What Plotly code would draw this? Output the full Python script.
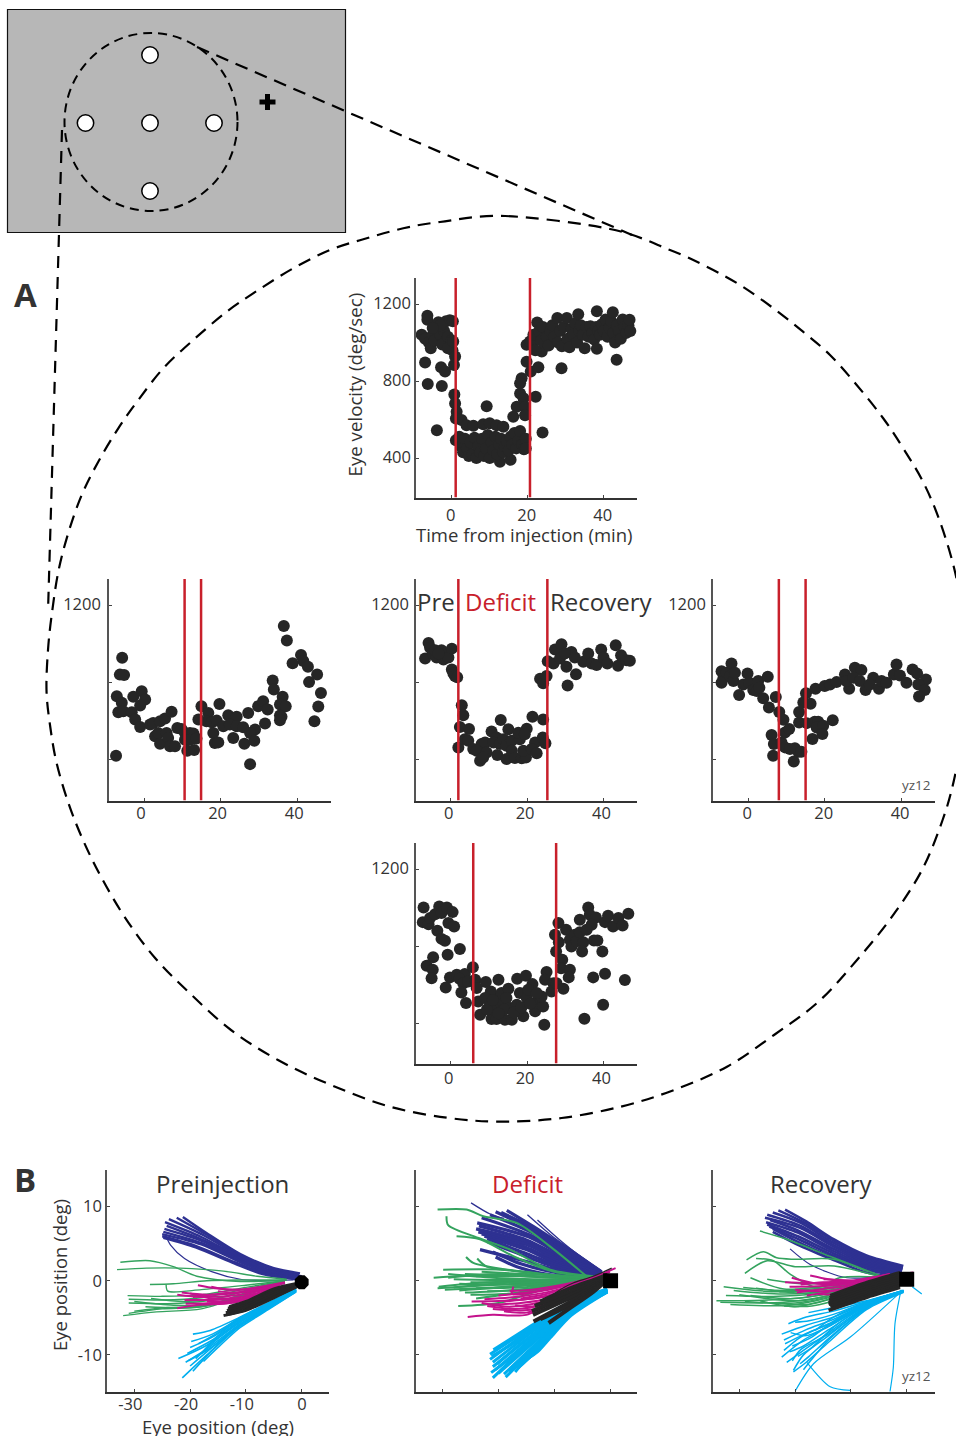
import plotly.graph_objects as go

W, H = 956, 1436
INK = "#262626"
RED = "#C8202B"
FONT = "Open Sans"

# ---------- Eye velocity scatter data: (minutes, deg/sec) ----------
TOP_PTS = [(-7.9,1040),(-6.4,1139),(-6.4,1118),(-7,896),(-6.3,784),(-3.9,544),(-2.6,774),(-2.8,871),(-1.75,849),
 (-7,1020),(-6,1000),(-5.5,970),(-5,1040),(-4.5,1010),(-4,1080),(-3.5,1105),(-3,1040),(-2.5,990),(-2,1060),(-1.5,1110),
 (-1,1030),(-0.5,1115),(0,1010),(0.2,960),(-1,970),(0.3,1110),(-3,1090),(-5,1075),(0.6,883),(0.9,927),(0.4,1005),
 (0.7,730),(0.9,683),(1.3,640),(1.1,605),(2.6,597),(3.9,570),(5.7,567),(8.3,575),(10,580),(11.8,570),(13.6,562),(9.2,669),
 (1.1,492),(12.7,380),(15.5,391),(2,510),(2.5,460),(3,430),(3.5,500),(4,450),(4.5,410),(5,480),(5.5,420),(6,505),(6.5,400),
 (7,460),(7.5,430),(8,500),(8.5,410),(9,450),(9.5,520),(10,400),(10.5,480),(11,440),(11.5,510),(12,420),(12.5,470),(13,500),
 (13.5,430),(14,460),(14.5,490),(15,440),(15.5,510),(16,470),(16.5,530),(17,450),(17.5,490),(18,540),(18.5,470),(19,445),
 (19.5,500),(19.5,450),(16.2,614),(17.1,666),(18,735),(18.9,710),(18.4,814),(18,788),(19.3,666),(19.3,622),(19.7,900),
 (19.7,988),(20.8,849),(20.6,1005),(22.1,718),(23.9,532),(22.8,871),(23.7,953),(21,1000),(21.5,1040),(22,960),(22.5,1104),
 (23,1060),(23.5,1010),(24,1080),(25,1030),(25.5,985),(26,1060),(26.5,1090),(27,1030),(27.8,1127),(28,1000),(28.5,1060),
 (28.9,866),(29,980),(29.5,1080),(30.3,1127),(30.5,1020),(31,975),(31.5,1070),(32,1040),(32.5,1100),(33,1000),(33.3,1147),
 (33.5,1060),(34,1090),(34.5,1040),(35,970),(35.5,1080),(36,1030),(36.5,1085),(37,1050),(37.5,1015),(38,1080),(38.2,1162),
 (38.2,967),(38.5,1060),(39,1040),(39.5,1095),(40,1060),(40.5,1120),(41,1030),(41.5,1075),(42,1110),(42.4,1157),(42.5,1050),
 (43,1000),(43.4,910),(43.5,1090),(44,1060),(44.5,1020),(45,1120),(45.5,1080),(46,1050),(46.5,1090),(46.8,1118),(47,1060)]

LEFT_PTS = [(-7.3,421),(-5.7,930),(-6.3,842),(-5.2,840),(-7.1,730),(-5.8,696),(-6.7,647),(-5.4,652),(-2.8,727),(-0.6,756),
 (0.3,713),(-1,682),(-3.2,647),(-2.3,609),(-1,570),(1.6,583),(2.4,591),(4.2,600),(5.5,614),(7.2,649),(2.9,522),(3.7,539),
 (4.2,483),(5.9,539),(6.3,513),(6.8,470),(8.1,470),(8.7,565),(9.8,560),(10.7,539),(12,539),(12.9,536),(10.7,504),(12,504),
 (13.7,510),(11.3,447),(13.1,450),(15,678),(16.8,643),(14.2,609),(16.3,600),(17.7,595),(19,603),(20.7,574),(22,631),(24.2,623),
 (22.4,583),(24.2,574),(25.9,569),(18.1,539),(18.5,487),(19.4,490),(23.3,513),(19.7,689),(27.2,643),(26.2,483),(29,557),
 (27.7,539),(28.8,499),(27.7,377),(31.6,588),(29.8,678),(31.1,704),(32.3,661),(33.6,812),(33.9,765),(36.2,727),(35.5,687),
 (37,678),(35.5,630),(35.9,623),(35.5,605),(36.5,1094),(37.3,1019),(38.8,901),(41,944),(41.6,913),(42.8,883),(45.2,843),
 (43.1,803),(46.2,746),(45.5,676),(44.5,600)]

MID_PTS = [(-6.7,926),(-5.8,1006),(-5.4,982),(-4.7,952),(-3.7,931),(-2.4,969),(-1.9,921),(-1.5,952),(-0.6,931),(0.3,977),
 (-4.1,969),(-3.2,952),(0.3,869),(0.7,849),(1.1,835),(1.7,828),(2.9,683),(3.3,631),(2.4,570),(4.8,559),(2,463),(3.7,506),
 (4.6,498),(5.9,455),(7.7,395),(8.1,481),(9,489),(6.8,446),(9.4,438),(8.5,412),(10.7,546),(12,515),(13.1,606),(15.1,558),
 (11.2,489),(12.9,481),(13.8,506),(14.6,472),(16,498),(12.2,424),(14.6,403),(16,446),(16.8,409),(18.1,506),(17.7,540),(19.9,561),
 (19.4,532),(18.6,407),(19.7,412),(19,446),(21.4,623),(24.2,609),(22.1,489),(21.2,455),(22.5,433),(24.1,515),(24.8,486),
 (23.4,820),(24.2,797),(25.1,835),(25.4,912),(27.3,972),(29,1000),(31.6,960),(26.9,900),(28.6,926),(30.3,883),(32.8,844),
 (30.6,785),(29.9,952),(32.5,931),(34.7,909),(36,952),(36.9,900),(38.2,892),(39.4,972),(40,931),(41,900),(43.2,994),(43.8,888),
 (44.6,943),(46,917),(46.9,914)]

RIGHT_PTS = [(-7,860),(-6.5,826),(-7,800),(-5.7,852),(-4.4,900),(-4.8,834),(-3.9,809),(-3.5,852),(-2.4,736),(-1.3,791),(-0.2,848),
 (0.3,800),(2.6,809),(1.3,762),(2.2,757),(2.9,774),(5.1,831),(3.9,719),(5.4,671),(7.2,726),(8.1,648),(9.2,607),(6.1,528),(6.7,481),
 (6.5,421),(8.7,490),(9.6,541),(10.7,559),(9.6,464),(12.2,460),(13.1,441),(13.9,441),(11.9,391),(10.9,455),(13.3,648),(14.4,697),
 (15.1,745),(16.3,691),(13.3,593),(15.3,590),(17.4,597),(18.3,597),(17.9,567),(19.6,576),(19.4,533),(16.8,507),(22.1,605),(17.6,769),
 (20,783),(21.4,791),(23.1,803),(25.3,843),(26.4,769),(25.7,809),(27.9,878),(29.6,866),(27.5,826),(29.2,809),(30.7,762),(32.7,826),
 (31.8,791),(34.2,769),(34.9,809),(36.2,800),(38.1,843),(38.8,895),(39.7,838),(41.4,800),(43,869),(44.2,848),(46.5,817),(44.5,791),
 (46.2,762),(44.7,728)]

BOTTOM_PTS = [(-7.1,1000),(-7.3,924),(-5.8,913),(-5.4,945),(-4.1,965),(-3,1005),(-2.4,971),(-1,1000),(0.5,976),(-0.6,919),(0.9,901),
 (-3.5,879),(-2.4,837),(-1.5,827),(2.4,784),(-0.8,754),(-4.6,741),(-6.3,697),(-4.7,677),(-5,633),(-1.3,585),(-0.2,637),(1.6,651),
 (3.7,654),(2.3,630),(3.3,607),(4.6,616),(5.8,690),(6.4,625),(6.8,582),(2.8,559),(4,504),(7.7,443),(7.2,512),(9.2,613),(12.5,625),
 (10.5,564),(9,530),(10.3,495),(12,521),(13.3,556),(15.1,578),(10.7,421),(12,421),(11.6,469),(13.3,495),(14.6,530),(14.2,417),(16,417),
 (15.5,478),(17.3,495),(17.4,630),(19.7,646),(18.1,556),(19,435),(17.7,461),(19.9,530),(21.4,602),(20.3,573),(22.1,461),(22.1,504),
 (24.2,486),(23.8,538),(22.5,556),(24.5,391),(25.1,665),(24.7,625),(26.9,607),(26.4,564),(27.7,607),(28.2,919),(27.3,858),(28.3,820),
 (27.6,772),(29.2,729),(28.9,685),(31.2,677),(30.9,637),(29.5,578),(30.2,884),(31.2,832),(31.6,798),(32.5,858),(33.8,936),(33,824),
 (34.7,820),(34.4,772),(36,1000),(36.4,962),(38,948),(36.9,910),(33.8,872),(35.6,884),(37.5,829),(38.4,829),(39.7,772),(40.4,656),
 (37.3,637),(39.9,495),(35,422),(45.6,623),(40.4,924),(41.2,957),(42.5,901),(43.9,945),(45,906),(46.5,967),
 (14,470),(16.5,455),(12.5,450),(18.5,480),(20.8,500),(9.5,470),(11,520)]

# injection-period boundaries for each panel (minutes)
TOP_BOUNDS = [1.05, 20.6]
LEFT_BOUNDS = [10.6, 14.9]
MID_BOUNDS = [2.0, 25.3]
RIGHT_BOUNDS = [8.0, 15.0]
BOTTOM_BOUNDS = [5.9, 27.6]

# ---------- Eye trajectories: (horizontal deg, vertical deg) ----------
PRE_BLUE = [
 [(-0.3,1.0),(-5,1.7),(-11,3.6),(-17,6.4),(-21.3,8.6)],[(-0.5,0.9),(-5,1.6),(-11,3.5),(-17,6.2),(-22.4,8.5)],
 [(-0.6,0.8),(-5,1.5),(-11,3.3),(-17.5,6.1),(-23.8,8.3)],[(-0.5,0.7),(-5.5,1.4),(-11,3.1),(-18,5.9),(-24.5,7.9)],
 [(0,0.6),(-6,1.4),(-11,3.0),(-18,5.6),(-24.2,7.4)],[(-0.5,0.5),(-6,1.3),(-11,2.8),(-18,5.4),(-24.6,7.0)],
 [(-0.5,0.5),(-6,1.1),(-11,2.7),(-18,5.1),(-24.8,6.6)],[(-0.5,0.4),(-6,1.0),(-11,2.5),(-18,4.9),(-25,6.3)],
 [(-1,0.3),(-7,1.1),(-12,2.5),(-19,4.7),(-25,6.0)],[(-1,0.2),(-7,0.9),(-12,2.3),(-19,4.5),(-24.8,5.8)]]
PRE_BLUE_STRAY = [[(-1.5,0.1),(-6,0.0),(-11,0.2),(-16,1.2),(-21,3.0),(-23.5,4.8),(-24.3,6.0)]]
PRE_GREEN = [
 [(-32.5,2.5),(-27.2,2.7),(-23,1.9),(-18.8,0.6),(-11,-0.1),(-2.7,0.1)],[(-33.1,1.5),(-27.8,1.7),(-21.8,1.7),(-14,1.3),(-8,0.6),(-2.7,0.2)],
 [(-27.2,-0.5),(-23,-0.4),(-17,0.0),(-11,0.1),(-2.7,0.1)],[(-24.3,-0.5),(-24,-1.4),(-18,-1.2),(-10,-0.6),(-3,0)],
 [(-31.2,-2.0),(-25,-2.1),(-18,-1.9),(-10,-0.9),(-3,0)],[(-31,-2.5),(-25,-2.6),(-18,-2.3),(-10,-1.1),(-3,-0.1)],
 [(-31,-3.0),(-24,-3.1),(-17,-2.7),(-10,-1.3),(-3,-0.2)],[(-30,-2.8),(-23,-3.3),(-16,-3.2),(-9,-1.5),(-3,-0.2)],
 [(-32,-4.7),(-26,-4.2),(-18,-3.8),(-10,-1.9),(-3,-0.3)],[(-31,-4.4),(-25,-3.8),(-18,-3.5),(-10,-1.7),(-3,-0.2)],
 [(-30,-4.1),(-24,-3.6),(-17,-3.4),(-10,-1.6),(-3,-0.2)],[(-27,-2.4),(-21,-2.8),(-14,-2.2),(-8,-0.9),(-3,-0.1)],
 [(-28,-3.5),(-20,-3.6),(-13,-2.6),(-7,-0.9),(-3,-0.1)]]
PRE_MAGENTA = [
 [(-18.6,-0.6),(-15.5,-1.0),(-10,-1.2),(-4,-0.4)],[(-16.2,-0.8),(-13,-1.2),(-9,-1.0),(-3,-0.2)],[(-21.5,-1.6),(-17,-1.9),(-11,-1.6),(-4,-0.6)],
 [(-22.3,-1.9),(-18,-2.2),(-11,-1.9),(-4,-0.7)],[(-20,-1.7),(-16,-2.4),(-11,-2.2),(-4,-0.8)],[(-21,-2.6),(-17,-2.6),(-11,-2.4),(-4,-0.9)],
 [(-20.8,-3.1),(-16,-3.0),(-11,-2.6),(-4,-1.0)],[(-22.3,-3.7),(-18,-3.2),(-12,-2.9),(-4,-1.1)],[(-19,-3.2),(-14,-3.1),(-9,-2.4),(-4,-1.0)],
 [(-17,-2.8),(-13,-2.8),(-8,-1.8),(-3,-0.6)],[(-19.5,-2.2),(-15,-1.8),(-10,-1.5),(-4,-0.5)],[(-15,-1.4),(-12,-1.6),(-8,-1.2),(-3,-0.3)]]
PRE_BLACK = [
 [(-0.5,-0.3),(-5,-1.1),(-10,-2.8),(-13,-3.5)],[(-0.5,-0.4),(-5,-1.4),(-10,-3.0),(-13.2,-3.7)],[(-0.5,-0.5),(-5,-1.6),(-10,-3.3),(-13.4,-4.0)],
 [(-0.5,-0.6),(-5,-1.9),(-10,-3.6),(-13.6,-4.3)],[(-0.5,-0.7),(-5,-2.2),(-10,-3.9),(-14,-4.7)],[(-1,-0.8),(-5,-2.3),(-10,-4.0),(-13.5,-4.6)]]
PRE_CYAN = [
 [(-1,-1),(-6,-3.0),(-11,-4.9),(-16.4,-6.7),(-19.5,-7.2)],[(-1,-1.1),(-6,-3.1),(-11,-5.0),(-16,-7.2),(-19.8,-8.2)],
 [(-1,-1.2),(-6,-3.2),(-11,-5.2),(-16,-7.6),(-20,-9.0)],[(-1,-1.2),(-6,-3.3),(-11,-5.4),(-16,-8.0),(-20.5,-9.8)],
 [(-1,-1.3),(-6,-3.4),(-11,-5.6),(-17,-8.7),(-22.1,-10.5)],[(-1,-1.3),(-6,-3.5),(-11,-5.8),(-17,-9.2),(-20.8,-11)],
 [(-1,-1.4),(-6,-3.6),(-11,-5.9),(-17,-9.6),(-20,-11.5)],[(-1,-1.4),(-6,-3.7),(-11,-6.0),(-17,-10.0),(-21.4,-13.1)],
 [(-1,-1.5),(-6,-3.8),(-11,-6.1),(-16,-9.4),(-19.5,-12.2)],[(-1,-1.5),(-6,-3.9),(-11,-6.3),(-15,-9.0),(-17.6,-10.9)],
 [(-1,-1.3),(-6,-3.3),(-11,-5.2),(-15,-7.4),(-18,-9.8)],[(-1,-1.2),(-6,-3.0),(-11,-5.0),(-15,-7.0),(-18.5,-8.5)],
 [(-1,-1.3),(-6,-3.4),(-11,-5.5),(-16,-8.4),(-19,-10.5)],[(-1,-1.4),(-6,-3.7),(-11,-5.9),(-16,-8.9),(-20.3,-10.8)]]

DEF_BLUE = [
 [(-1.5,1.2),(-7.8,4.4),(-13.7,7.3),(-18.5,9.5)],[(-1.5,1.1),(-8,4.2),(-14,7.2),(-19.5,9.2)],[(-1.5,1.1),(-8,3.9),(-14,6.9),(-20.5,9.3)],
 [(-1.5,1.0),(-8,3.7),(-14,6.5),(-21.5,8.9)],[(-1.5,1.0),(-8,3.4),(-14.5,6.2),(-23,8.5)],[(-1.5,1.0),(-8,3.2),(-14.5,5.9),(-23.8,7.8)],
 [(-1.5,0.9),(-8.5,3.1),(-15,5.5),(-23.5,7.4)],[(-1.5,0.9),(-8.5,2.8),(-15,5.2),(-24,7.0)],[(-1.5,0.9),(-8.5,2.6),(-15,4.9),(-23.6,6.6)],
 [(-1.5,0.8),(-8.5,2.3),(-15,4.5),(-23,6.3)],[(-1.5,0.8),(-9,2.2),(-15,4.2),(-22.5,6.0)],[(-1.5,0.7),(-9,2.0),(-15.5,3.8),(-22,5.7)],
 [(-1.5,0.7),(-9,1.7),(-15.5,3.4),(-22,5.3)],[(-1.5,0.6),(-9,1.4),(-16,2.8),(-23.3,4.2)],[(-1.5,0.6),(-9.5,1.1),(-16,2.3),(-21,3.9)],
 [(-1.5,0.5),(-10.7,0.8),(-16.7,1.9),(-20.5,3.2)]]
DEF_BLUE_STRAY = [[(-1.5,1.3),(-6,3.7),(-10,5.8),(-14.8,8.9)],[(-1.5,1.3),(-5,3.1),(-9,5.5),(-13,8.2)],[(-19,8.4),(-21.5,9),(-24.9,10.5)]]
DEF_GREEN = [
 [(-30.9,9.6),(-25.7,9.6),(-22.7,8.7),(-16.7,7.8),(-10.7,4.6),(-4.2,0.6)],[(-29.3,8.7),(-29,7.5),(-23.3,5.7),(-17.9,4.2),(-10.7,1.5),(-3,0.6)],
 [(-27.5,6),(-23.3,5.6),(-17,3.2),(-10,1.2),(-3,0.5)],[(-25.8,3.2),(-24.5,2.4),(-16.7,1.3),(-7.8,0.6),(-3,0.4)],
 [(-23.8,3),(-22.1,1.9),(-15,1.2),(-8,0.5),(-3,0.4)],[(-29.9,1.5),(-19.7,1.5),(-12,0.9),(-3,0.3)],
 [(-31.6,0.4),(-22,0.8),(-13,0.5),(-3,0.3)],[(-29,0.9),(-21,0.4),(-12,0.2),(-3,0.2)],[(-30.7,-0.8),(-22,-0.2),(-13,-0.1),(-3,0.2)],
 [(-30.9,-1),(-22,-0.6),(-13,-0.3),(-3,0.1)],[(-29.6,-1.2),(-21,-0.9),(-12,-0.5),(-3,0.1)],[(-28,0.2),(-20,0.1),(-11,0.1),(-3,0.2)],
 [(-27,-0.4),(-18,-0.5),(-10,-0.2),(-3,0.1)],[(-26,-1.6),(-18,-1.3),(-10,-0.6),(-3,0.1)],[(-27.2,-3.4),(-20,-3.0),(-12,-1.2),(-3,0)],
 [(-25,-1.9),(-17,-1.7),(-10,-0.8),(-3,0)],[(-24,0.6),(-16,0.6),(-9,0.4),(-3,0.2)],[(-24,-1.0),(-16,-0.9),(-9,-0.4),(-3,0.1)],
 [(-29,0.4),(-20,0.9),(-11,0.5),(-3,0.3)],[(-28,-0.9),(-19,-0.3),(-10,0.1),(-3,0.2)],[(-27,-1.3),(-18,-0.8),(-9,-0.1),(-3,0.1)],
 [(-26,0.9),(-18,0.7),(-10,0.5),(-3,0.3)],[(-25,-0.2),(-16,-0.2),(-8,0.1),(-3,0.2)],[(-23,1.2),(-15,0.9),(-8,0.6),(-3,0.3)],
 [(-24,-2.4),(-16,-1.5),(-9,-0.4),(-3,0.1)],[(-22,-1.4),(-14,-1.1),(-8,-0.2),(-3,0.1)]]
DEF_MAGENTA = [
 [(-25.5,-4.9),(-21,-4.6),(-15,-4.6),(-9,-2.3),(-3,0.3)],[(-24.8,-2.8),(-19,-2.7),(-12,-2.2),(-6,-0.6),(-2,0.6)],
 [(-23,-3),(-18,-3.5),(-12,-2.8),(-6,-0.8),(-2,0.6)],[(-22.5,-2.5),(-17,-2.2),(-11,-1.5),(-6,-0.5),(-2,0.7)],
 [(-17.3,-0.8),(-17.5,-1.8),(-11,-1.2),(-6,-0.2),(-2,0.7)],[(-22,-3.4),(-17,-3.8),(-12,-3.2),(-6,-1.0),(-2,0.5)],
 [(-20,-2),(-15,-1.6),(-10,-1.0),(-5,-0.1),(-2,0.7)],[(-21,-3.8),(-16,-4.0),(-12,-3.6),(-6,-1.2),(-2,0.4)],
 [(-19,-4.1),(-15,-4.3),(-11,-3.2),(-6,-1.0),(-2,0.4)],[(-18,-1.4),(-14,-1.2),(-9,-0.6),(-4,0.2),(1,1.7)],
 [(-21.5,-3.2),(-16,-3.0),(-11,-2.4),(-6,-0.7),(-2,0.6)],[(-19,-2.8),(-14,-2.4),(-10,-1.8),(-5,-0.5),(-1,1.0)],
 [(-17,-3.3),(-13,-3.4),(-9,-2.0),(-5,-0.4),(-2,0.5)],[(-16,-2.4),(-12,-1.9),(-8,-1.0),(-4,0.1),(0,1.2)]]
DEF_BLACK = [
 [(-12.5,-2.8),(-7,-1.0),(-3,0.1),(-0.5,0.8)],[(-13.5,-3.4),(-7,-1.5),(-3,-0.2),(-0.5,0.7)],
 [(-14,-4.1),(-7,-1.9),(-3,-0.5),(-0.5,0.5)],[(-13.8,-4.6),(-7,-2.3),(-3,-0.8),(-0.5,0.4)],[(-13.7,-5.5),(-7,-2.8),(-3,-1.1),(-0.5,0.3)],
 [(-12.5,-5.2),(-7,-3.2),(-3,-1.3),(-0.5,0.2)],[(-11,-5.7),(-7,-3.6),(-3,-1.5),(-0.5,0.1)]]
DEF_BLACK_STRAY = [[(-10.7,-2.1),(-8.5,-1.0),(-6.6,-0.3),(-3,0.6),(0.3,1.7)]]
DEF_CYAN = [
 [(-0.5,-1.1),(-7,-2.9),(-10.7,-4.3),(-14,-6.0),(-20.9,-9.3)],[(-0.5,-1.1),(-7,-3.0),(-10.7,-4.6),(-14.5,-6.5),(-21.5,-9.9)],
 [(-0.5,-1.2),(-7,-3.1),(-10.7,-4.8),(-15,-7.0),(-21.5,-10.6)],[(-0.5,-1.2),(-7,-3.2),(-10.7,-5.1),(-15,-7.5),(-21,-11)],
 [(-0.5,-1.3),(-7,-3.3),(-10.7,-5.4),(-15,-8.0),(-21,-11.6)],[(-0.5,-1.3),(-7,-3.5),(-10.7,-5.7),(-15,-8.4),(-20.5,-12)],
 [(-0.5,-1.3),(-7,-3.6),(-10.7,-6.0),(-15,-8.8),(-21,-13.1)],[(-0.5,-1.4),(-7,-3.8),(-10.7,-6.3),(-15,-9.2),(-20,-12.5)],
 [(-0.5,-1.4),(-7,-3.9),(-10.7,-6.6),(-14.5,-9.4),(-19,-12.6)],[(-0.5,-1.4),(-7,-4.1),(-10.7,-6.9),(-14,-9.5),(-18,-12.3)],
 [(-0.5,-1.5),(-7,-4.3),(-10.7,-7.2),(-14,-9.9),(-17.3,-11.7)],[(-0.5,-1.5),(-7,-4.5),(-10.7,-7.5),(-13.5,-9.8),(-15.5,-10.9)],
 [(-0.5,-1.5),(-7,-4.7),(-10.7,-7.7),(-13,-9.6),(-14.8,-10.5)],[(-0.5,-1.2),(-7,-3.15),(-10.7,-5.0),(-15.5,-7.6),(-21.2,-10.2)],
 [(-0.5,-1.3),(-7,-3.4),(-10.7,-5.55),(-15.5,-8.2),(-20.2,-11.2)],[(-0.5,-1.3),(-7,-3.7),(-10.7,-6.15),(-15.5,-9.1),(-21.3,-12.4)],
 [(-0.5,-1.4),(-7,-4.0),(-10.7,-6.75),(-14.5,-9.8),(-18.7,-13)],[(-0.5,-1.5),(-7,-4.4),(-10.7,-7.35),(-13.8,-9.9),(-16.5,-11.8)],
 [(-0.5,-1.5),(-7,-4.2),(-10.7,-7.05),(-14.5,-10.1),(-17,-12.3)]]

REC_BLUE = [
 [(-0.6,2.0),(-7.2,3.4),(-13.1,5.6),(-18,8.0),(-21.8,9.6)],[(-0.7,1.8),(-7.2,3.2),(-13.1,5.4),(-18.5,7.9),(-23,9.5)],
 [(-0.7,1.7),(-7.2,3.0),(-13.1,5.1),(-19,7.8),(-24,9.2)],[(-0.8,1.5),(-7.2,2.8),(-13.1,4.8),(-19,7.4),(-25,8.9)],
 [(-0.8,1.4),(-7.2,2.6),(-13.1,4.6),(-19,7.1),(-25.4,8.5)],[(-0.9,1.2),(-7.2,2.4),(-13.1,4.3),(-19.5,6.8),(-24.5,8.2)],
 [(-0.9,1.1),(-7.2,2.2),(-13.1,4.0),(-19.5,6.5),(-25.2,7.9)],[(-1,1.0),(-7.2,2.0),(-13.1,3.7),(-19.5,6.0),(-25,7.6)],
 [(-1,0.9),(-7.2,1.8),(-13.1,3.4),(-19.1,5.5),(-24.6,7.3)],[(-1.1,0.7),(-7.2,1.5),(-13.1,3.1),(-19.1,5.1),(-24,7.0)],
 [(-1.2,0.4),(-7.2,1.1),(-13.1,2.8),(-19.1,4.7),(-24,6.6)]]
REC_BLUE_STRAY = [[(-3.6,0.7),(-10.7,0.4),(-17.3,2.2),(-20.9,4.3)]]
REC_GREEN = [
 [(-4.8,0.7),(-13.1,3.1),(-21.5,5.6),(-26.3,6.7)],[(-7.2,1.3),(-13.1,2.9),(-20.3,2.9),(-23.3,3.1),(-25.7,3.9),(-28.7,2.8)],
 [(-5,0.6),(-13,2.0),(-20,1.9),(-25,2.7),(-29,1)],[(-5,0.5),(-12,0.4),(-16.1,-0.9),(-20.9,0.9),(-23.9,2.7),(-27,3)],
 [(-3.6,0.4),(-12,-0.5),(-22,-1.1),(-28,0.4)],[(-3.6,0.4),(-12,-0.7),(-22,-1.3),(-29.3,-0.9)],[(-3.6,0.4),(-12,-0.9),(-23,-1.5),(-32.8,-0.8)],
 [(-3.6,0.4),(-12,-1.1),(-22,-1.8),(-31,-1.3)],[(-3.6,0.4),(-12,-1.3),(-23,-2.1),(-32.4,-2)],[(-3.6,0.4),(-12,-1.5),(-22,-2.5),(-34.1,-2.7)],
 [(-3.6,0.4),(-12,-1.7),(-22,-2.9),(-33.4,-2.9)],[(-3.6,0.4),(-12,-1.9),(-21,-3.3),(-31.6,-3.2)],[(-3.6,0.4),(-12,-2.1),(-20,-3.5),(-26.3,-2.7)],
 [(-3.6,0.3),(-11,-1.2),(-20,-2.4),(-28,-2.0)],[(-3.6,0.3),(-11,-1.6),(-20,-3.0),(-29,-2.8)],
 [(-3.6,0.3),(-11,-0.2),(-19,-0.4),(-25,0.2)],[(-3.6,0.3),(-11,-0.9),(-18,-1.7),(-27,-1.0)],[(-3.6,0.3),(-11,-1.4),(-19,-2.7),(-30,-1.9)],
 [(-3.6,0.3),(-11,-1.8),(-18,-3.2),(-24,-3.0)],[(-3.6,0.3),(-11,-2.2),(-17,-3.4),(-22,-3.4)]]
REC_MAGENTA = [
 [(1.2,1.1),(-5,0.5),(-12,-0.3),(-21.8,-0.2)],[(-3,0.9),(-10,-0.2),(-16,-0.4),(-20.6,0.4)],[(-3,0.9),(-10,0.0),(-14,0.2),(-17.3,0.7)],
 [(-3,0.8),(-9,0.0),(-12,0.1),(-14.9,0.2)],[(-3,0.8),(-10,-0.6),(-15,-1.1),(-19.7,-1.6)],[(-3,0.7),(-10,-0.8),(-14,-1.5),(-17.9,-2)],
 [(-3,0.7),(-10,-0.4),(-15,-0.7),(-21,-0.8)],[(-3,0.6),(-10,-1.0),(-15,-1.4),(-20,-1.2)],[(-3,0.8),(-10,-0.1),(-15,-0.2),(-19,-0.5)],
 [(-3,0.6),(-9,-0.9),(-13,-1.8),(-16,-1.8)]]
REC_BLACK = [
 [(-1.2,1.1),(-7,-0.2),(-13.7,-2)],[(-1.2,0.8),(-7,-0.5),(-13.8,-2.3)],[(-1.2,0.5),(-7,-0.8),(-13.9,-2.6)],[(-1.2,0.2),(-7,-1.1),(-14,-2.9)],
 [(-1.2,-0.1),(-7,-1.4),(-14,-3.2)],[(-1.2,-0.4),(-7,-1.7),(-13.7,-3.5)],[(-1.2,-0.7),(-7,-2.0),(-13.4,-3.8)],[(-1.2,-0.9),(-7,-2.2),(-14,-4.0)]]
REC_CYAN = [
 [(-0.6,-1.3),(-7.2,-2.7),(-13.1,-3.6),(-17.6,-4.3)],[(-0.6,-1.3),(-7.2,-2.8),(-13.1,-4.1),(-18,-4.9),(-21.2,-5.8)],
 [(-0.6,-1.3),(-7.2,-2.9),(-13.1,-4.9),(-16.4,-6.7)],[(-0.6,-1.3),(-7.2,-3.0),(-13.1,-4.9),(-18,-6.0),(-22.4,-7.2)],
 [(-0.6,-1.4),(-7.2,-3.1),(-13.1,-5.2),(-18,-6.6),(-22,-8)],[(-0.6,-1.4),(-7.2,-3.2),(-13.1,-5.6),(-18,-7.1),(-21.8,-8.5)],
 [(-0.6,-1.4),(-7.2,-3.3),(-14,-6.2),(-18.5,-8.0),(-22.4,-10.3)],[(-0.6,-1.5),(-7.2,-3.4),(-14,-6.6),(-18.5,-8.8),(-21,-9.6)],
 [(-0.6,-1.5),(-7.2,-3.5),(-14,-7.0),(-18.5,-9.4),(-21.5,-11)],[(-0.6,-1.5),(-7.2,-3.6),(-14,-7.4),(-18.5,-10),(-20.3,-12.1)],
 [(-0.6,-1.5),(-7.2,-3.7),(-14,-7.8),(-17.5,-10.2),(-19.1,-11.2)],[(-0.6,-1.6),(-7.2,-3.9),(-14.3,-8.5),(-18,-11.0),(-20.3,-12.3)],
 [(-0.6,-1.4),(-7.2,-3.1),(-13,-5.4),(-17,-7.6),(-20.5,-8.8)],[(-0.6,-1.4),(-7.2,-3.4),(-13,-6.2),(-17,-9.0),(-19.5,-10.2)],
 [(-0.6,-1.3),(-7.2,-2.85),(-13,-4.5),(-17.5,-5.4),(-20,-5.6)],[(-0.6,-1.4),(-7.2,-3.05),(-13,-5.7),(-18,-7.4),(-20.8,-7.0)],
 [(-0.6,-1.4),(-7.2,-3.25),(-14,-5.8),(-19,-7.6),(-22,-9.4)],[(-0.6,-1.5),(-7.2,-3.55),(-14,-7.2),(-19,-9.3),(-20.5,-10.8)],
 [(-0.6,-1.5),(-7.2,-3.75),(-14,-8.0),(-17,-10.6),(-18.5,-12)]]
REC_CYAN_STRAY = [[(-1.2,-1.6),(-10.1,-7.6),(-16.7,-11.2),(-20,-14.9)],[(-1,-1.2),(-2.1,-5.8),(-2.4,-11.7),(-3,-15)],
 [(-17.9,-11),(-13.7,-14.3),(-10.1,-14.8)],[(1,-0.8),(2.7,-1.8)]]

TICKS_X = [0, 20, 40]
TICKS_Y = [400, 800, 1200]
TICKS_POS_X = [-30, -20, -10, 0]
TICKS_POS_Y = [-10, 0, 10]

# outline of the large dashed enlargement, traced in page pixels
BIG_OUTLINE = [(505,216),(610,229),(670,250),(706.7,266.7),(740,285),(773,308),(803,331.7),(830,355),(856.7,385),(883,418),
 (903,448),(923,481.7),(940,521.7),(955,571.7),(963,620),(967,670),(963,730),(954,780),(942.6,820),(922,870),(892,916.7),(857,960),
 (818.5,1001.7),(774,1035),(727,1066.7),(674,1090),(620.7,1106.7),(561.6,1118),(502.5,1121.7),(449,1118),(390,1106.7),(331,1085),
 (278,1060),(231,1030),(189.5,993),(154,956.7),(124.5,916.7),(101,876.7),(83,840),(68.4,803),(56.6,763),(50,725),(46.5,690),(48,650),
 (51.7,615),(58.3,571.7),(68.3,533),(81.7,495),(98.3,461.7),(118.3,428.3),(138.3,400),(163.3,368.3),(193.3,340),(226.7,311.7),
 (258.3,290),(293.3,268.3),(330,250),(366.7,238.3),(403.3,228.3),(440,222)]

def px(x): return x / W
def py(y): return 1 - y / H

fig = go.Figure()
layout = dict(width=W, height=H, margin=dict(l=0, r=0, t=0, b=0), paper_bgcolor="white",
              plot_bgcolor="rgba(0,0,0,0)", showlegend=False, font=dict(family=FONT, color="#333333", size=16))

def add_axes(n, box, xrange, yrange, xvals, yvals, xtext, ytext, shift, x_stand, y_stand, y_shift):
    l, r, t, b = box
    sx = "" if n == 1 else str(n)
    common = dict(showgrid=False, zeroline=False, showline=True, ticks="inside", ticklen=3, tickwidth=1,
                  tickcolor="#444444", tickfont=dict(family=FONT, size=16.5, color="#333333"))
    layout["xaxis" + sx] = dict(common, domain=[px(l), px(r)], range=xrange, anchor="y" + sx, tickmode="array",
                                tickvals=xvals, ticktext=xtext, linecolor="#333333", linewidth=1.5, ticklabelshift=shift,
                                ticklabelstandoff=x_stand, fixedrange=True)
    layout["yaxis" + sx] = dict(common, domain=[py(b), py(t)], range=yrange, anchor="x" + sx, tickmode="array",
                                tickvals=yvals, ticktext=ytext, linecolor="#555555", linewidth=1.5,
                                ticklabelstandoff=y_stand, ticklabelshift=y_shift, fixedrange=True)
    return "x" + sx, "y" + sx

def velocity_panel(n, box, x0, px_per_min, y_1200, pts, bounds, ylabels, shift, x_stand, y_stand):
    l, r, t, b = box
    per = 0.1925
    xr = [(l - x0) / px_per_min, (r - x0) / px_per_min]
    yr = [1200 - (b - y_1200) / per, 1200 + (y_1200 - t) / per]
    xa, ya = add_axes(n, box, xr, yr, TICKS_X, TICKS_Y, [str(v) for v in TICKS_X], ylabels, shift, x_stand, y_stand, -1)
    fig.add_trace(go.Scatter(x=[p[0] for p in pts], y=[p[1] for p in pts], mode="markers", xaxis=xa, yaxis=ya,
                             marker=dict(size=12, color=INK, line=dict(width=0))))
    for v in bounds:
        fig.add_trace(go.Scatter(x=[v, v], y=yr, mode="lines", xaxis=xa, yaxis=ya,
                                 line=dict(color=RED, width=2.5)))

velocity_panel(1, (416, 637, 278, 497.5), 451.7, 3.8, 304, TOP_PTS, TOP_BOUNDS, ["400", "800", "1200"], -1, 2, 0)
velocity_panel(2, (109, 331, 579, 800.5), 144, 3.83, 605.7, LEFT_PTS, LEFT_BOUNDS, ["", "", "1200"], -3, -3, 3)
velocity_panel(3, (416, 637, 579, 800.5), 450.7, 3.82, 605.7, MID_PTS, MID_BOUNDS, ["", "", "1200"], -2, -3, 2)
velocity_panel(4, (713, 935, 579, 800.5), 748.3, 3.82, 605.7, RIGHT_PTS, RIGHT_BOUNDS, ["", "", "1200"], -1, -3, 2)
velocity_panel(5, (416, 637, 843, 1063.5), 450.7, 3.82, 869, BOTTOM_PTS, BOTTOM_BOUNDS, ["", "", "1200"], -2, -1, 2)

def trajectory_panel(n, box, x0, groups, xlabels, ylabels, shift, symbol, origin):
    l, r, t, b = box
    xr = [(l - x0) / 5.58, (r - x0) / 5.58]
    yr = [-14.94, 14.94]
    xa, ya = add_axes(n, box, xr, yr, TICKS_POS_X, TICKS_POS_Y, xlabels, ylabels, shift, -3, 0, 0)
    for lines, color, lw in groups:
        for ln in lines:
            fig.add_trace(go.Scatter(x=[p[0] for p in ln], y=[p[1] for p in ln], mode="lines", xaxis=xa, yaxis=ya,
                                     line=dict(color=color, width=lw, shape="spline", smoothing=0.8)))
    fig.add_trace(go.Scatter(x=[origin[0]], y=[origin[1]], mode="markers", xaxis=xa, yaxis=ya,
                             marker=dict(symbol=symbol, size=15, color="#000000", line=dict(width=0))))

BLUE, GREEN, MAGENTA, CYAN = "#2E3192", "#34A35E", "#C4128C", "#00AEEF"
no_x = ["", "", "", ""]
no_y = ["", "", ""]
pos_x_labels = ["-30", "-20", "-10", "\u00a0\u00a00"]
trajectory_panel(6, (107, 329, 1170, 1391.5), 301.7,
    [(PRE_BLUE, BLUE, 2.4), (PRE_BLUE_STRAY, BLUE, 1.2), (PRE_GREEN, GREEN, 1.4), (PRE_MAGENTA, MAGENTA, 2.0), (PRE_CYAN, CYAN, 1.6), (PRE_BLACK, INK, 3)],
    pos_x_labels, [str(v) for v in TICKS_POS_Y], -4, "octagon", (0, -0.2))
trajectory_panel(7, (416, 637, 1170, 1391.5), 610,
    [(DEF_BLUE, BLUE, 3.2), (DEF_BLUE_STRAY, BLUE, 1.3), (DEF_GREEN, GREEN, 2.0), (DEF_MAGENTA, MAGENTA, 2.0), (DEF_CYAN, CYAN, 3.0), (DEF_BLACK, INK, 4), (DEF_BLACK_STRAY, INK, 1.2)],
    no_x, no_y, 0, "square", (0.1, 0))
trajectory_panel(8, (713, 935, 1170, 1391.5), 906.7,
    [(REC_BLUE, BLUE, 2.6), (REC_BLUE_STRAY, BLUE, 1.2), (REC_GREEN, GREEN, 1.5), (REC_MAGENTA, MAGENTA, 2.0), (REC_CYAN, CYAN, 1.5), (REC_CYAN_STRAY, CYAN, 1.2), (REC_BLACK, INK, 3.4)],
    no_x, no_y, 0, "square", (0, 0.2))

# ---------- Texts ----------
def label(x, y, text, size=18.5, color="#333333", angle=0, bold=False):
    return dict(xref="paper", yref="paper", x=px(x), y=py(y), text=("<b>%s</b>" % text) if bold else text,
                showarrow=False, xanchor="center", yanchor="middle", textangle=angle,
                font=dict(family=FONT, size=size, color=color))

layout["annotations"] = [
    label(25, 294, "A", 33, "#333333", bold=True),
    label(25, 1179, "B", 33, "#333333", bold=True),
    label(524.5, 535, "Time from injection (min)"),
    label(354, 384.5, "Eye velocity (deg/sec)", 18.7, angle=-90),
    label(218, 1426, "Eye position (deg)"),
    label(59, 1275, "Eye position (deg)", angle=-90),
    label(222, 1183, "Preinjection", 24),
    label(527, 1183, "Deficit", 24, RED),
    label(821, 1183, "Recovery", 24),
    label(435.5, 601, "Pre", 24),
    label(500, 601, "Deficit", 24, RED),
    label(600.5, 601, "Recovery", 24),
    label(916, 785, "yz12", 13.5, "#555555"),
    label(916, 1376, "yz12", 13.5, "#555555"),
]

# ---------- Stimulus schematic and dashed outlines ----------
def circle(cx, cy, rx, ry, line, fill="rgba(0,0,0,0)"):
    return dict(type="circle", xref="paper", yref="paper", x0=px(cx - rx), x1=px(cx + rx), y0=py(cy + ry), y1=py(cy - ry),
                line=line, fillcolor=fill, layer="below")

def segment(x0, y0, x1, y1, line):
    return dict(type="line", xref="paper", yref="paper", x0=px(x0), x1=px(x1), y0=py(y0), y1=py(y1), line=line, layer="below")

def rect(x0, y0, x1, y1, fill, line):
    return dict(type="rect", xref="paper", yref="paper", x0=px(x0), x1=px(x1), y0=py(y1), y1=py(y0), fillcolor=fill, line=line, layer="below")

def smooth_closed(points, line):
    n = len(points)
    d = "M%.5f,%.5f" % (px(points[0][0]), py(points[0][1]))
    for i in range(n):
        p0, p1, p2, p3 = points[i - 1], points[i], points[(i + 1) % n], points[(i + 2) % n]
        c1 = (p1[0] + (p2[0] - p0[0]) / 6, p1[1] + (p2[1] - p0[1]) / 6)
        c2 = (p2[0] - (p3[0] - p1[0]) / 6, p2[1] - (p3[1] - p1[1]) / 6)
        d += "C%.5f,%.5f %.5f,%.5f %.5f,%.5f" % (px(c1[0]), py(c1[1]), px(c2[0]), py(c2[1]), px(p2[0]), py(p2[1]))
    return dict(type="path", xref="paper", yref="paper", path=d + "Z", line=line, layer="below")

small_dash = dict(color="black", width=2, dash="9px,6px")
large_dash = dict(color="black", width=2.2, dash="13px,8px")
no_line = dict(width=0)
shapes = [rect(7.5, 9.5, 345.5, 232.5, "#B7B7B7", dict(color="#111111", width=1.2)),
          circle(151, 122, 86.5, 89, small_dash),
          smooth_closed(BIG_OUTLINE, large_dash),
          segment(197, 47, 632, 235, large_dash),
          segment(62, 130, 48, 612, dict(color="black", width=2.2, dash="12px,9px")),
          rect(259.5, 99.5, 275.5, 104.5, "black", no_line),
          rect(265, 94, 270, 110, "black", no_line)]
for cx, cy in [(150, 55), (85.5, 123), (150, 123), (214, 123), (150, 191)]:
    shapes.append(circle(cx, cy, 8.2, 8.2, dict(color="black", width=1.5), "white"))
layout["shapes"] = shapes

fig.update_layout(**layout)
fig.write_html("out.html", config={"displayModeBar": False},
               post_script="document.body.style.margin='0';document.documentElement.style.overflow='hidden';")
